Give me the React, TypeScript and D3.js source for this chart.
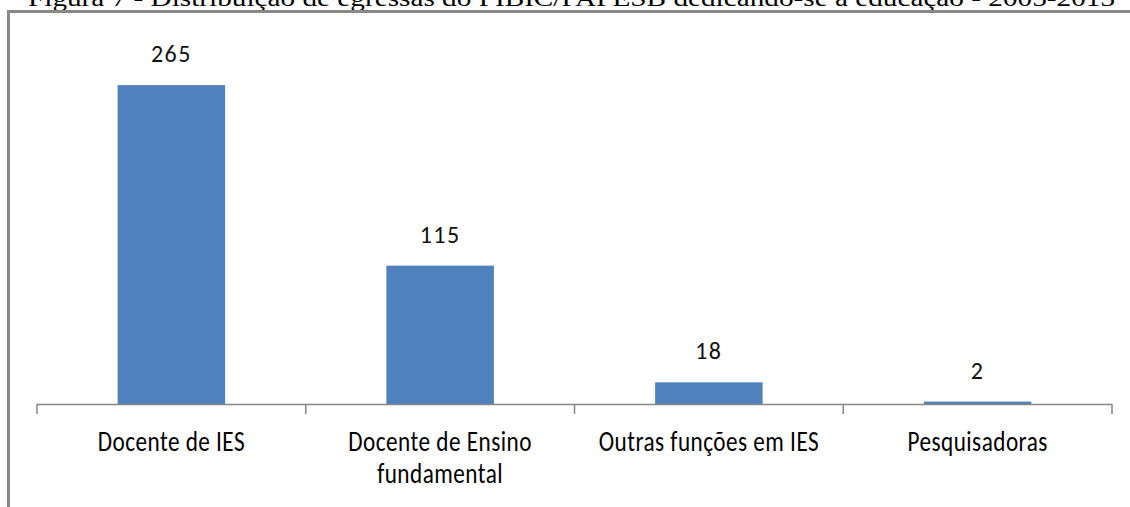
import React from "react";
import * as d3 from "d3";

const categories: string[][] = [
  ["Docente de IES"],
  ["Docente de Ensino", "fundamental"],
  ["Outras funções em IES"],
  ["Pesquisadoras"],
];
const values: number[] = [265, 115, 18, 2];
const title = "Figura 7 - Distribuição de egressas do PIBIC/PAPESB dedicando-se à educação - 2005-2013";

const W = 1130;
const H = 507;

export default function App() {
  const x = d3
    .scaleBand<number>()
    .domain(values.map((_, i) => i))
    .range([37, 1112])
    .paddingInner(0.6)
    .paddingOuter(0.3);
  const y = d3.scaleLinear().domain([0, 300]).range([404, 43]);
  const step = (1112 - 37) / values.length;
  const ticks = d3.range(values.length + 1).map((i) => 37 + i * step);
  const font = "Carlito, Calibri, 'Liberation Sans Narrow', 'Open Sans', sans-serif";

  return (
    <svg
      width={W}
      height={H}
      style={{ position: "absolute", left: 0, top: 0, background: "#fff" }}
    >
      <rect x={0} y={0} width={W} height={H} fill="#fff" />
      <text
        x={28}
        y={6}
        fontFamily="'Liberation Serif', 'Times New Roman', serif"
        fontSize={24}
        textLength={1087}
        lengthAdjust="spacingAndGlyphs"
        fill="#000"
      >
        {title}
      </text>
      {/* frame */}
      <path d={`M8.5,${H + 5} L8.5,11.5 L${W + 5},11.5`} fill="none" stroke="#898989" strokeWidth={3} />
      {/* bars */}
      {values.map((v, i) => (
        <rect
          key={i}
          x={x(i)}
          y={y(v)}
          width={x.bandwidth()}
          height={y(0) - y(v)}
          fill="#4F81BD"
        />
      ))}
      {/* axis */}
      <line x1={37} x2={1112} y1={404.5} y2={404.5} stroke="#868686" strokeWidth={1.5} />
      {ticks.map((t, i) => (
        <line key={i} x1={t} x2={t} y1={404} y2={414} stroke="#868686" strokeWidth={1.5} />
      ))}
      {/* value labels */}
      {values.map((v, i) => (
        <text
          key={i}
          x={(x(i) as number) + x.bandwidth() / 2}
          y={y(v) - 23}
          textAnchor="middle"
          fontFamily={font}
          fontSize={24}
          letterSpacing={1.5}
          fill="#111"
        >
          {v}
        </text>
      ))}
      {/* category labels */}
      {categories.map((lines, i) => (
        <g key={i} transform={`translate(${37 + (i + 0.5) * step},0) scale(0.8,1)`}>
          {lines.map((l, j) => (
            <text
              key={j}
              x={0}
              y={451 + j * 32}
              textAnchor="middle"
              fontFamily={font}
              fontSize={29}
              letterSpacing={0.6}
              fill="#000"
            >
              {l}
            </text>
          ))}
        </g>
      ))}
    </svg>
  );
}
